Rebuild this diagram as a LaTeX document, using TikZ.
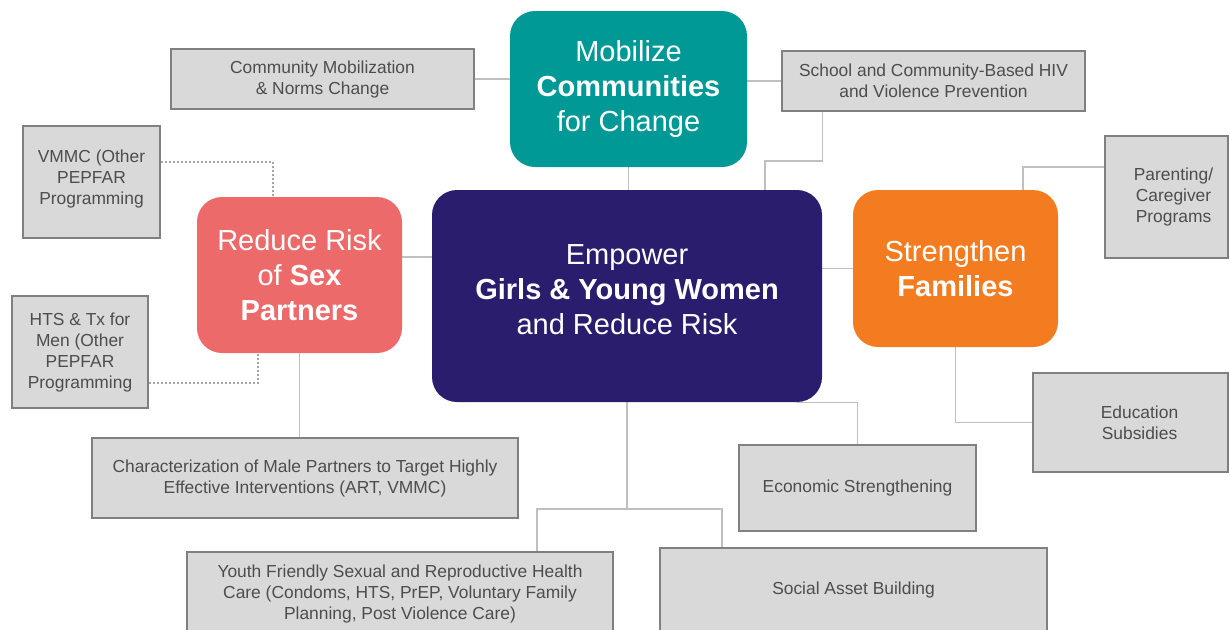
\documentclass[tikz,border=0pt]{standalone}
\usepackage{fontspec}
\setmainfont{Liberation Sans}
\usetikzlibrary{positioning, backgrounds}

\definecolor{tealgoal}{RGB}{0,153,150}
\definecolor{navygoal}{RGB}{42,29,110}
\definecolor{coralgoal}{RGB}{237,106,106}
\definecolor{orangegoal}{RGB}{244,124,32}
\definecolor{boxfill}{RGB}{217,217,217}
\definecolor{boxline}{RGB}{128,128,128}
\definecolor{boxtext}{RGB}{77,77,77}
\definecolor{linkgray}{RGB}{191,191,191}
\definecolor{dotgray}{RGB}{166,166,166}

\begin{document}
\begin{tikzpicture}[
		x=0.5pt, y=-0.5pt,
		goal/.style={rounded corners=12.5pt, text=white, align=center, inner sep=0pt,
			font=\fontsize{14.5}{17.5}\selectfont},
		item/.style={draw=boxline, fill=boxfill, line width=1pt, text=boxtext, align=center,
			inner sep=0pt, font=\fontsize{8.7}{10.5}\selectfont},
		link/.style={draw=linkgray, line width=0.6pt},
		dotlink/.style={draw=dotgray, line width=0.8pt, dash pattern=on 1pt off 1pt}
		]
		\useasboundingbox (0,0) rectangle (1230,629);
		
		% --- 1. The four goals ---
		\node[goal, fill=tealgoal, minimum width=118.5pt, minimum height=78pt] (mob) at (628.5,89)
			{Mobilize\\\textbf{Communities}\\for Change};
		\node[goal, fill=navygoal, minimum width=195pt, minimum height=106pt] (emp) at (627,296)
			{Empower\\\textbf{Girls \& Young Women}\\and Reduce Risk\\[-11pt]\mbox{}};
		\node[goal, fill=coralgoal, minimum width=102.5pt, minimum height=78pt] (risk) at (299.5,275)
			{Reduce Risk\\of \textbf{Sex}\\\textbf{Partners}};
		\node[goal, fill=orangegoal, minimum width=102.5pt, minimum height=78.5pt] (fam) at (955.5,268.5)
			{Strengthen\\\textbf{Families}};
		
		% --- 2. The interventions ---
		\node[item, minimum width=151.5pt, minimum height=30pt] (comm) at (322.5,79)
			{Community Mobilization\\\& Norms Change};
		\node[item, minimum width=151.5pt, minimum height=30pt] (school) at (933.5,81)
			{School and Community-Based HIV\\and Violence Prevention};
		\node[item, minimum width=68.5pt, minimum height=56pt] (vmmc) at (91.5,182)
			{VMMC (Other\\PEPFAR\\Programming\\[-6pt]\mbox{}};
		\node[item, minimum width=68pt, minimum height=56pt] (hts) at (80,352)
			{HTS \& Tx for\\Men (Other\\PEPFAR\\Programming};
		\node[item, minimum width=213pt, minimum height=40pt] (char) at (305,478)
			{Characterization of Male Partners to Target Highly\\Effective Interventions (ART, VMMC)};
		\node[item, minimum width=61.5pt, minimum height=61pt] (parent) at (1166.5,197)
			{\hspace*{7pt}Parenting/\\\hspace*{7pt}Caregiver\\\hspace*{7pt}Programs};
		\node[item, minimum width=97.5pt, minimum height=49.5pt] (edu) at (1130.5,422.5)
			{\hspace*{9pt}Education\\\hspace*{9pt}Subsidies};
		\node[item, minimum width=118.5pt, minimum height=43pt] (econ) at (857.5,488)
			{Economic Strengthening};
		\node[item, minimum width=213pt, minimum height=42pt] (youth) at (400,594)
			{Youth Friendly Sexual and Reproductive Health\\Care (Condoms, HTS, PrEP, Voluntary Family\\Planning, Post Violence Care)};
		\node[item, minimum width=193.5pt, minimum height=42pt] (social) at (853.5,590)
			{Social Asset Building};
		
		% --- 3. Connectors ---
		\coordinate (sk) at (765,161);
		\coordinate (pk) at (1023,167);
		\coordinate (vk) at (273,162);
		\coordinate (hk) at (258,383);
		\coordinate (jt) at (627,509);
		\coordinate (yl) at (537,509);
		\coordinate (sl) at (722,509);
		\begin{scope}[on background layer]
			\draw[link] (comm.east) -- (comm.east -| mob.west);
			\draw[link] (school.west) -- (school.west -| mob.east);
			\draw[link] (mob.south) -- (mob.south |- emp.north);
			\draw[link] (school.south -| emp.east) |- (sk) -- (sk |- emp.north);
			\draw[link] ([yshift=9pt]risk.east) -- ([yshift=9pt]risk.east -| emp.west);
			\draw[link] (fam.west) -- (fam.west -| emp.east);
			\draw[link] (parent.west |- pk) -- (pk) -- (pk |- fam.north);
			\draw[link] (fam.south) |- (edu.west);
			\draw[link] ([xshift=-12.5pt]emp.south east) -| (econ.north);
			\draw[link] (risk.south) -- (risk.south |- char.north);
			\draw[link] (emp.south) -- (jt);
			\draw[link] (yl |- youth.north) -- (yl) -- (sl) -- (sl |- social.north);
			\draw[dotlink] (vmmc.east |- vk) -- (vk) -- (vk |- risk.north);
			\draw[dotlink] (hts.east |- hk) -- (hk) -- (hk |- risk.south);
		\end{scope}
		
	\end{tikzpicture}
\end{document}
